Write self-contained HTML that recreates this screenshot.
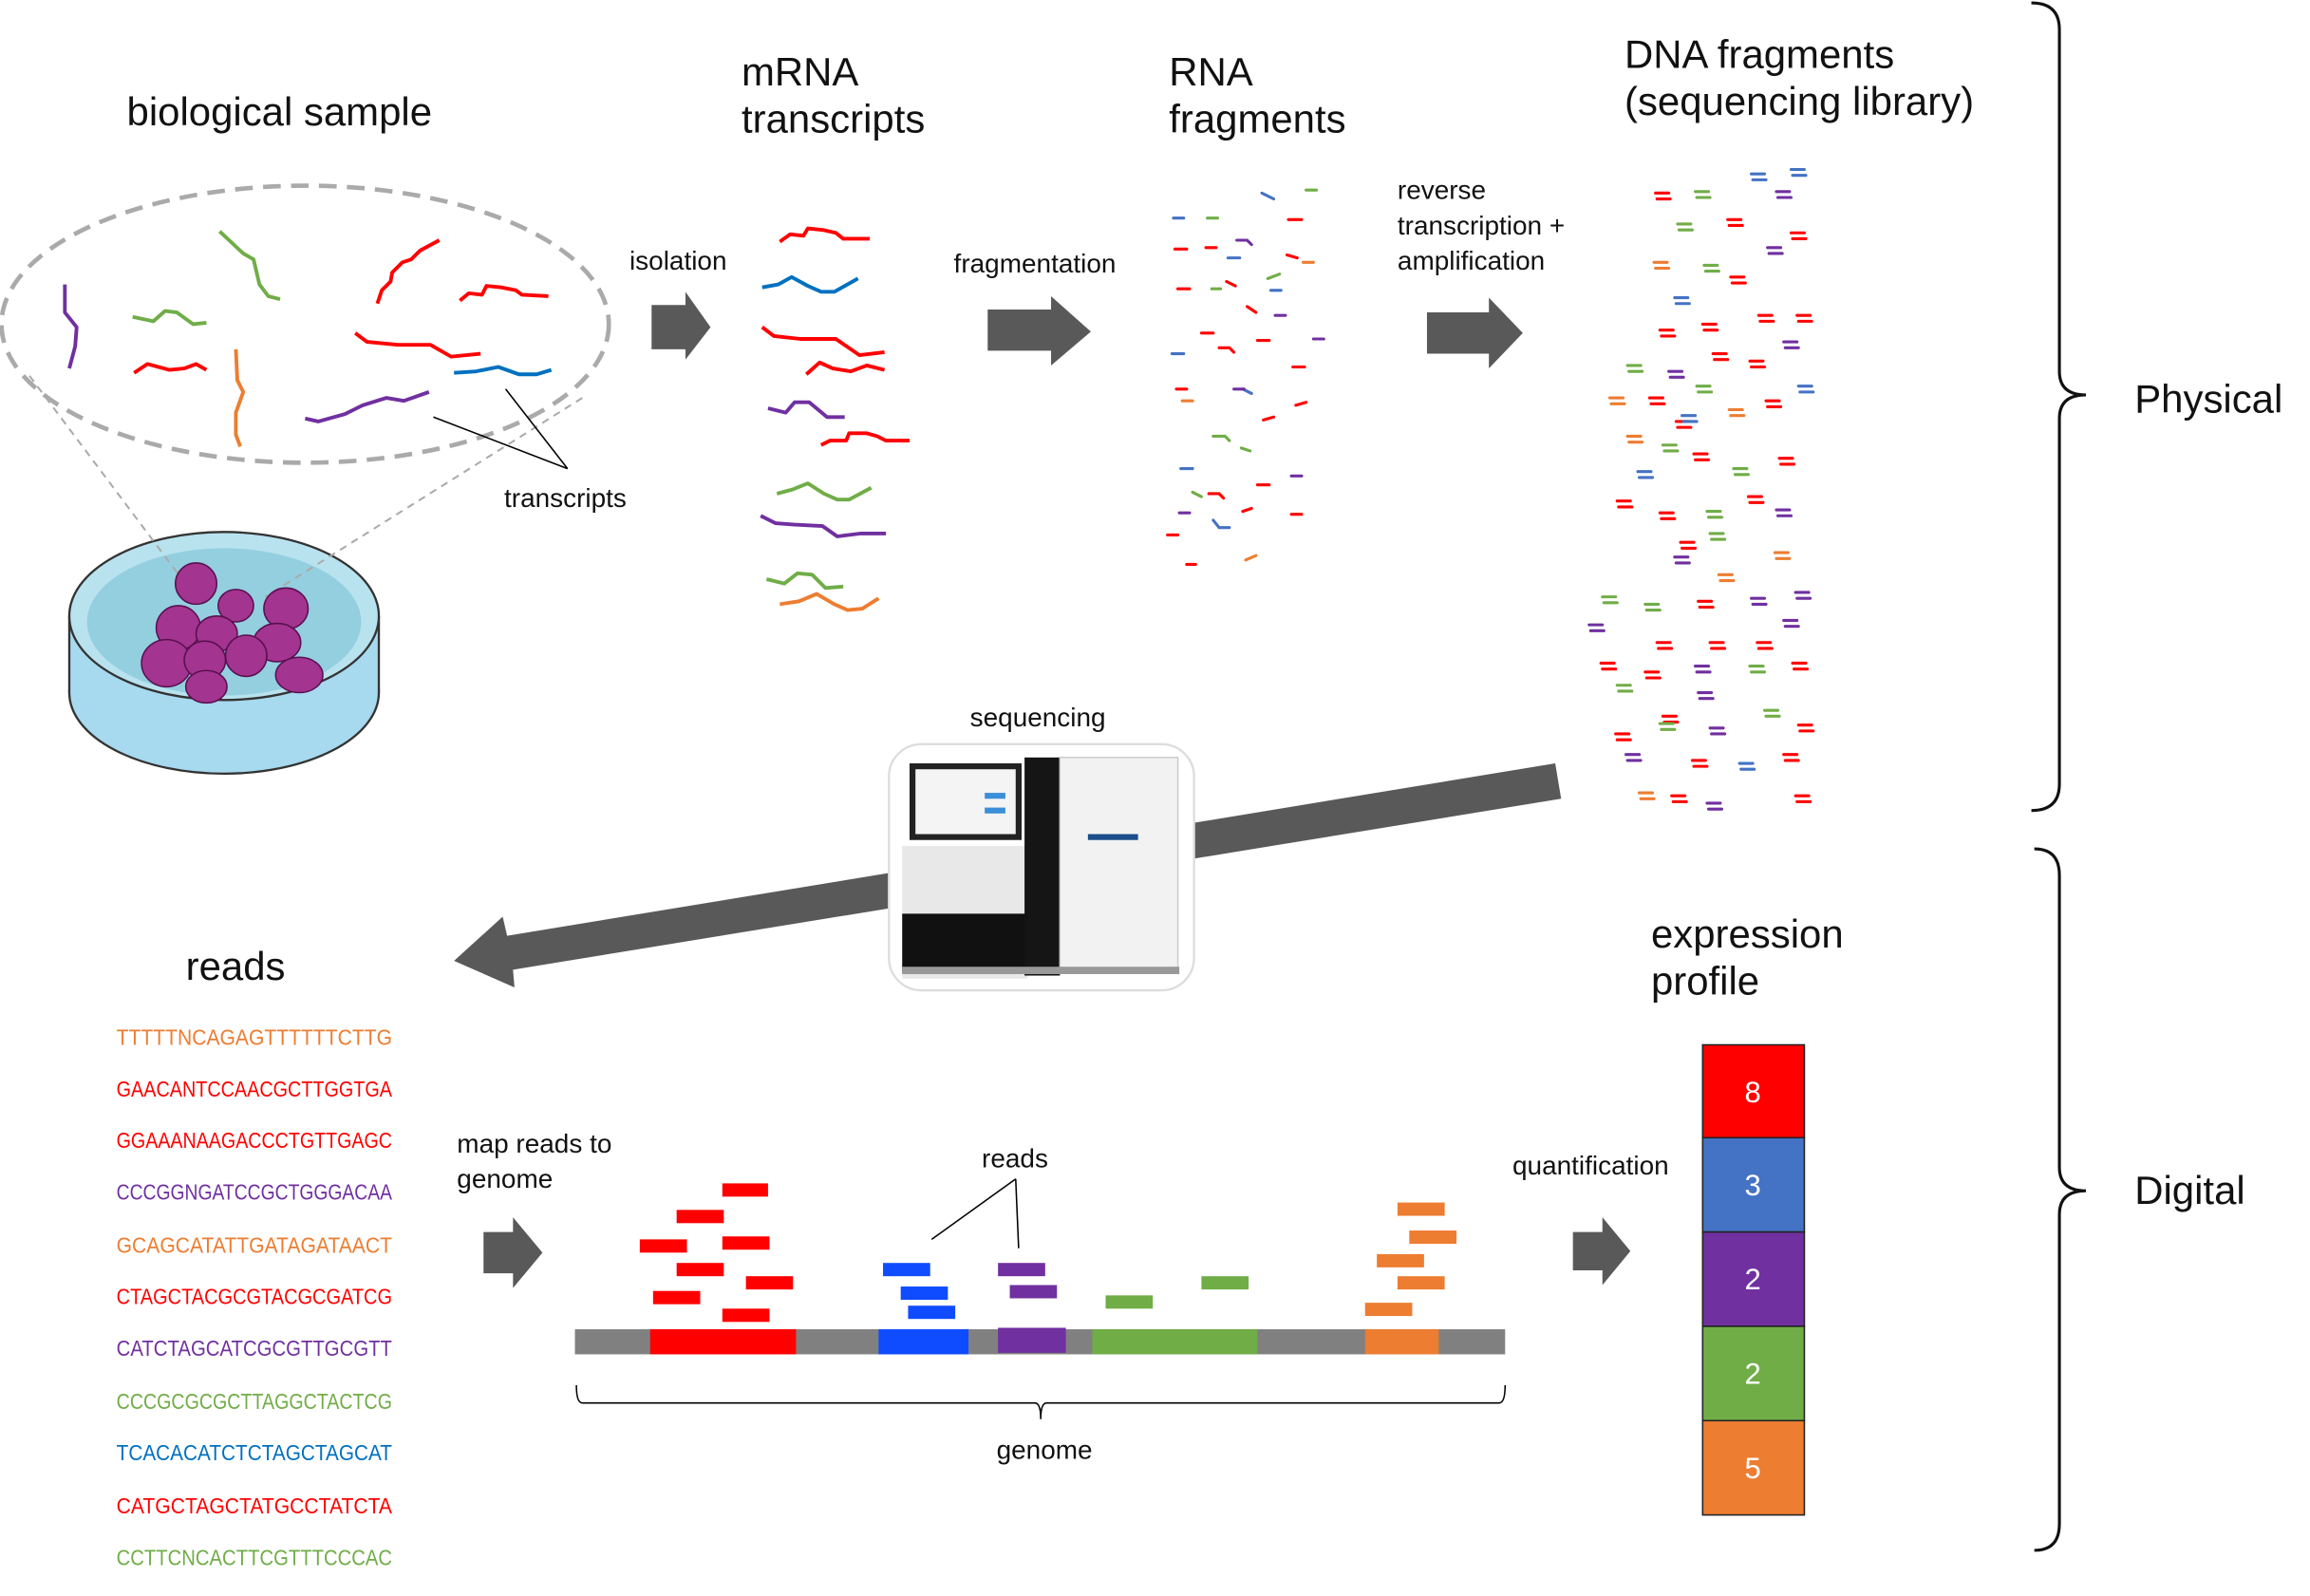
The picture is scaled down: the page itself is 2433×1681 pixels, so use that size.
<!DOCTYPE html>
<html><head><meta charset="utf-8"><style>html,body{margin:0;padding:0;background:#fff}svg{display:block}text{font-family:"Liberation Sans",sans-serif;fill:#111}</style></head><body>
<svg width="2433" height="1681" viewBox="0 0 1567 1083" preserveAspectRatio="none" xmlns="http://www.w3.org/2000/svg">
<rect width="1567" height="1083" fill="#fff"/>
<g font-size="27">
<text x="86" y="85">biological sample</text>
<text x="503" y="58">mRNA</text><text x="503" y="90">transcripts</text>
<text x="793" y="58">RNA</text><text x="793" y="90">fragments</text>
<text x="1102" y="46">DNA fragments</text><text x="1102" y="78">(sequencing library)</text>
<text x="1448" y="280">Physical</text>
<text x="1448" y="817">Digital</text>
<text x="1120" y="643">expression</text><text x="1120" y="675">profile</text>
<text x="126" y="665">reads</text>
</g>
<g font-size="18">
<text x="427" y="183">isolation</text>
<text x="647" y="185">fragmentation</text>
<text x="948" y="135">reverse</text><text x="948" y="159">transcription +</text><text x="948" y="183">amplification</text>
<text x="342" y="344">transcripts</text>
<text x="658" y="493">sequencing</text>
<text x="310" y="782">map reads to</text><text x="310" y="806">genome</text>
<text x="666" y="792">reads</text>
<text x="1026" y="797">quantification</text>
<text x="676" y="990">genome</text>
</g>
<g fill="#595959">
<polygon points="442,207 465,207 465,198 482,222 465,244 465,237 442,237"/>
<polygon points="670,210 713,210 713,201 740,225 713,248 713,238 670,238"/>
<polygon points="968,212 1010,212 1010,202 1033,226 1010,250 1010,240 968,240"/>
<polygon points="328,836 348,836 348,826 368,850 348,874 348,864 328,864"/>
<polygon points="1067,836 1087,836 1087,826 1106,849 1087,872 1087,862 1067,862"/>
<polygon points="1055,518 1059,542 348,658 349,670 308,652 341,622 344,635"/>
</g>
<rect x="603" y="505" width="207" height="167" rx="22" fill="#fff" stroke="#ddd" stroke-width="1.5"/>
<rect x="612" y="574" width="85" height="90" fill="#e8e8e8"/>
<rect x="612" y="620" width="85" height="40" fill="#111"/>
<rect x="617" y="518" width="76" height="52" fill="#222"/>
<rect x="621" y="522" width="68" height="44" fill="#f4f4f4"/>
<rect x="668" y="538" width="14" height="4" fill="#3a8fd8"/><rect x="668" y="548" width="14" height="4" fill="#3a8fd8"/>
<rect x="695" y="514" width="24" height="148" fill="#151515"/>
<rect x="719" y="514" width="80" height="146" fill="#f2f2f2" stroke="#ccc"/>
<rect x="738" y="566" width="34" height="4" fill="#1b4e8a"/>
<rect x="612" y="656" width="188" height="5" fill="#999"/>
<ellipse cx="207" cy="220" rx="206" ry="94" fill="none" stroke="#aaa" stroke-width="3" stroke-dasharray="12,7"/>
<ellipse cx="152" cy="470" rx="105" ry="55" fill="#a7d9ef" stroke="#333" stroke-width="1.5"/>
<rect x="47" y="418" width="210" height="52" fill="#a7d9ef"/>
<line x1="47" y1="418" x2="47" y2="470" stroke="#333" stroke-width="1.5"/>
<line x1="257" y1="418" x2="257" y2="470" stroke="#333" stroke-width="1.5"/>
<ellipse cx="152" cy="418" rx="105" ry="57" fill="#b9e2ef" stroke="#333" stroke-width="1.5"/>
<ellipse cx="152" cy="422" rx="93" ry="50" fill="#94cfe0"/>
<line x1="20" y1="255" x2="125" y2="395" stroke="#aaa" stroke-width="1.3" stroke-dasharray="5,4"/>
<line x1="395" y1="270" x2="180" y2="405" stroke="#aaa" stroke-width="1.3" stroke-dasharray="5,4"/>
<g fill="#a3348f" stroke="#5a1050" stroke-width="1">
<ellipse cx="133" cy="396" rx="14" ry="14"/><ellipse cx="160" cy="411" rx="12" ry="11"/><ellipse cx="194" cy="413" rx="15" ry="14"/>
<ellipse cx="121" cy="426" rx="15" ry="15"/><ellipse cx="147" cy="430" rx="14" ry="12"/><ellipse cx="188" cy="436" rx="16" ry="13"/>
<ellipse cx="113" cy="450" rx="17" ry="16"/><ellipse cx="139" cy="448" rx="14" ry="13"/><ellipse cx="167" cy="445" rx="14" ry="14"/>
<ellipse cx="203" cy="458" rx="16" ry="12"/><ellipse cx="140" cy="466" rx="14" ry="11"/>
</g>
<g fill="none" stroke-width="2.5" stroke-linejoin="round">
<polyline stroke="#7030a0" points="44,193 44,212 52,222 51,235 47,250"/>
<polyline stroke="#70ad47" points="149,157 165,172 172,176 176,193 182,201 190,203"/>
<polyline stroke="#70ad47" points="90,215 104,218 112,211 120,212 131,220 140,219"/>
<polyline stroke="#ff0000" points="91,253 100,247 115,251 125,250 133,247 140,251"/>
<polyline stroke="#ed7d31" points="160,237 161,258 165,266 160,280 160,295 163,303"/>
<polyline stroke="#ff0000" points="256,206 259,197 265,191 266,185 273,178 279,176 285,170 298,163"/>
<polyline stroke="#ff0000" points="312,204 318,199 327,200 330,194 340,195 350,197 354,200 372,201"/>
<polyline stroke="#ff0000" points="241,226 249,232 270,234 292,234 306,242 326,240"/>
<polyline stroke="#0070c0" points="308,253 323,252 338,249 352,254 364,254 374,251"/>
<polyline stroke="#7030a0" points="207,284 216,286 234,281 246,275 262,270 274,272 291,266"/>
</g>
<g stroke="#000" stroke-width="1"><line x1="294" y1="283" x2="385" y2="318"/><line x1="343" y1="264" x2="385" y2="318"/></g>
<g fill="none" stroke-width="2.5" stroke-linejoin="round">
<polyline stroke="#ff0000" points="529,164 536,159 545,160 548,155 558,156 567,158 572,162 590,162"/>
<polyline stroke="#0070c0" points="517,195 528,193 537,188 548,194 557,198 566,198 582,189"/>
<polyline stroke="#ff0000" points="517,222 525,228 543,230 567,230 583,241 600,239"/>
<polyline stroke="#ff0000" points="547,254 556,246 565,250 577,252 588,248 600,251"/>
<polyline stroke="#7030a0" points="521,277 533,280 539,273 549,273 561,283 573,283"/>
<polyline stroke="#ff0000" points="557,302 563,299 574,299 576,294 588,294 595,296 601,299 617,299"/>
<polyline stroke="#70ad47" points="527,335 538,332 548,328 559,335 568,339 576,339 591,331"/>
<polyline stroke="#7030a0" points="516,350 526,355 539,356 558,357 568,364 584,362 601,362"/>
<polyline stroke="#70ad47" points="520,393 532,396 541,389 551,390 560,399 572,398"/>
<polyline stroke="#ed7d31" points="529,410 542,408 554,403 566,410 575,414 585,413 596,406"/>
</g>
<g fill="none" stroke-width="2" stroke-linecap="round">
<path stroke="#ff0000" d="M874 149h9M797 169h8M818 168h7M873 173l7 2M799 196h8M832 191l6 3M846 208l6 4M815 226h8M827 236h7l3 3M853 231h8M877 249h8M798 264h7M879 275l7-2M857 285l7-2M820 335h7l3 3M853 329h8M843 347l6-2M876 349h7M805 383h6M792 363h7"/>
<path stroke="#4472c4" d="M856 131l8 4M796 148h7M833 175h8M862 197h7M795 240h8M843 264l6 3M801 318h8M823 353l4 5h7"/>
<path stroke="#70ad47" d="M886 129h7M819 148h7M860 189l8-3M822 196h6M823 296h8l3 3M842 304l6 2M809 334l6 3"/>
<path stroke="#7030a0" d="M839 163h7l3 3M891 230h7M865 214h7M837 264h7M876 323h7M800 348h7"/>
<path stroke="#ed7d31" d="M884 178h7M802 272h7M845 380l7-3"/>
</g>
<g fill="none" stroke-width="2" stroke-linecap="round">
<path stroke="#ff0000" d="M1123 131h9m-8 4h9M1172 149h9m-8 4h9M1215 158h9m-8 4h9M1174 188h9m-8 4h9M1126 224h9m-8 4h9M1155 220h9m-8 4h9M1193 214h9m-8 4h9M1219 214h9m-8 4h9M1162 240h9m-8 4h9M1187 245h9m-8 4h9M1119 270h9m-8 4h9M1198 272h9m-8 4h9M1137 286h9m-8 4h9M1207 311h9m-8 4h9M1149 308h9m-8 4h9M1097 340h9m-8 4h9M1126 348h9m-8 4h9M1186 337h9m-8 4h9M1140 368h9m-8 4h9M1152 408h9m-8 4h9M1124 436h9m-8 4h9M1160 436h9m-8 4h9M1086 450h9m-8 4h9M1116 456h9m-8 4h9M1192 436h9m-8 4h9M1216 450h9m-8 4h9M1128 486h9m-8 4h9M1096 498h9m-8 4h9M1220 492h9m-8 4h9M1148 516h9m-8 4h9M1210 512h9m-8 4h9M1134 540h9m-8 4h9M1218 540h9m-8 4h9"/>
<path stroke="#4472c4" d="M1188 118h9m-8 4h9M1215 115h9m-8 4h9M1136 202h9m-8 4h9M1220 262h9m-8 4h9M1141 282h9m-8 4h9M1111 320h9m-8 4h9M1180 518h9m-8 4h9"/>
<path stroke="#70ad47" d="M1150 130h9m-8 4h9M1138 152h9m-8 4h9M1156 180h9m-8 4h9M1104 248h9m-8 4h9M1151 262h9m-8 4h9M1128 302h9m-8 4h9M1176 318h9m-8 4h9M1158 347h9m-8 4h9M1160 362h9m-8 4h9M1087 405h9m-8 4h9M1116 410h9m-8 4h9M1097 465h9m-8 4h9M1187 452h9m-8 4h9M1126 491h9m-8 4h9M1197 482h9m-8 4h9"/>
<path stroke="#7030a0" d="M1205 130h9m-8 4h9M1199 168h9m-8 4h9M1210 232h9m-8 4h9M1132 252h9m-8 4h9M1205 346h9m-8 4h9M1136 378h9m-8 4h9M1188 406h9m-8 4h9M1218 402h9m-8 4h9M1078 424h9m-8 4h9M1210 421h9m-8 4h9M1150 452h9m-8 4h9M1152 470h9m-8 4h9M1160 494h9m-8 4h9M1103 512h9m-8 4h9M1158 545h9m-8 4h9"/>
<path stroke="#ed7d31" d="M1122 178h9m-8 4h9M1092 270h9m-8 4h9M1173 278h9m-8 4h9M1104 296h9m-8 4h9M1204 375h9m-8 4h9M1166 390h9m-8 4h9M1112 538h9m-8 4h9"/>
</g>
<g font-size="15">
<text x="79" y="709" style="fill:#ed7d31" textLength="187" lengthAdjust="spacingAndGlyphs">TTTTTNCAGAGTTTTTTCTTG</text>
<text x="79" y="744" style="fill:#ff0000" textLength="187" lengthAdjust="spacingAndGlyphs">GAACANTCCAACGCTTGGTGA</text>
<text x="79" y="779" style="fill:#ff0000" textLength="187" lengthAdjust="spacingAndGlyphs">GGAAANAAGACCCTGTTGAGC</text>
<text x="79" y="814" style="fill:#7030a0" textLength="187" lengthAdjust="spacingAndGlyphs">CCCGGNGATCCGCTGGGACAA</text>
<text x="79" y="850" style="fill:#ed7d31" textLength="187" lengthAdjust="spacingAndGlyphs">GCAGCATATTGATAGATAACT</text>
<text x="79" y="885" style="fill:#ff0000" textLength="187" lengthAdjust="spacingAndGlyphs">CTAGCTACGCGTACGCGATCG</text>
<text x="79" y="920" style="fill:#7030a0" textLength="187" lengthAdjust="spacingAndGlyphs">CATCTAGCATCGCGTTGCGTT</text>
<text x="79" y="956" style="fill:#70ad47" textLength="187" lengthAdjust="spacingAndGlyphs">CCCGCGCGCTTAGGCTACTCG</text>
<text x="79" y="991" style="fill:#0070c0" textLength="187" lengthAdjust="spacingAndGlyphs">TCACACATCTCTAGCTAGCAT</text>
<text x="79" y="1027" style="fill:#ff0000" textLength="187" lengthAdjust="spacingAndGlyphs">CATGCTAGCTATGCCTATCTA</text>
<text x="79" y="1062" style="fill:#70ad47" textLength="187" lengthAdjust="spacingAndGlyphs">CCTTCNCACTTCGTTTCCCAC</text>
</g>
<rect x="390" y="902" width="631" height="17" fill="#808080"/>
<rect x="441" y="902" width="99" height="17" fill="#ff0000"/>
<rect x="596" y="902" width="61" height="17" fill="#0f4cff"/>
<rect x="677" y="901" width="46" height="17" fill="#7030a0"/>
<rect x="741" y="902" width="112" height="17" fill="#70ad47"/>
<rect x="926" y="902" width="50" height="17" fill="#ed7d31"/>
<g fill="#ff0000"><rect x="490" y="803" width="31" height="9"/><rect x="459" y="821" width="32" height="9"/><rect x="434" y="841" width="32" height="9"/><rect x="490" y="839" width="32" height="9"/><rect x="459" y="857" width="32" height="9"/><rect x="506" y="866" width="32" height="9"/><rect x="443" y="876" width="32" height="9"/><rect x="490" y="888" width="32" height="9"/></g>
<g fill="#0f4cff"><rect x="599" y="857" width="32" height="9"/><rect x="611" y="873" width="32" height="9"/><rect x="616" y="886" width="32" height="9"/></g>
<g fill="#7030a0"><rect x="677" y="857" width="32" height="9"/><rect x="685" y="872" width="32" height="9"/></g>
<g fill="#70ad47"><rect x="750" y="879" width="32" height="9"/><rect x="815" y="866" width="32" height="9"/></g>
<g fill="#ed7d31"><rect x="948" y="816" width="32" height="9"/><rect x="956" y="835" width="32" height="9"/><rect x="934" y="851" width="32" height="9"/><rect x="948" y="866" width="32" height="9"/><rect x="926" y="884" width="32" height="9"/></g>
<g stroke="#000" stroke-width="1" fill="none">
<line x1="689" y1="800" x2="632" y2="841"/><line x1="689" y1="800" x2="691" y2="847"/>
<path d="M391 940 Q391 952 395 952 L702 952 Q706 952 706 963 Q706 952 710 952 L1017 952 Q1021 952 1021 940"/>
</g>
<g stroke="#222" stroke-width="1">
<rect x="1155" y="709" width="69" height="63" fill="#ff0000"/>
<rect x="1155" y="772" width="69" height="64" fill="#4472c4"/>
<rect x="1155" y="836" width="69" height="64" fill="#7030a0"/>
<rect x="1155" y="900" width="69" height="64" fill="#70ad47"/>
<rect x="1155" y="964" width="69" height="64" fill="#ed7d31"/>
</g>
<g font-size="20" text-anchor="middle">
<text x="1189" y="748" style="fill:#fff">8</text><text x="1189" y="811" style="fill:#fff">3</text><text x="1189" y="875" style="fill:#fff">2</text><text x="1189" y="939" style="fill:#fff">2</text><text x="1189" y="1003" style="fill:#fff">5</text>
</g>
<g stroke="#111" stroke-width="2" fill="none">
<path d="M1378 2 Q1397 2 1397 20 L1397 252 Q1397 268 1415 268 Q1397 268 1397 284 L1397 532 Q1397 550 1378 550"/>
<path d="M1380 576 Q1397 576 1397 594 L1397 792 Q1397 808 1415 808 Q1397 808 1397 824 L1397 1034 Q1397 1052 1380 1052"/>
</g>
</svg>
</body></html>
